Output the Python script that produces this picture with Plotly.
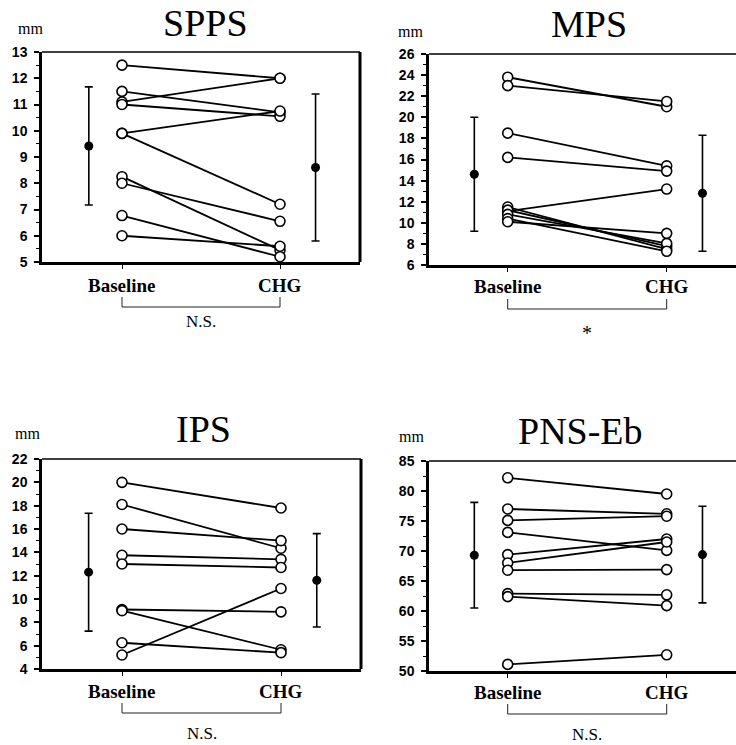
import plotly.graph_objects as go

W, H = 736, 745

# ---------------- data ----------------
groups = ["Baseline", "CHG"]

spps_baseline = [12.5, 11.1, 11.5, 11.0, 9.9, 9.9, 8.25, 8.0, 6.77, 6.0]
spps_chg      = [12.0, 12.0, 10.7, 10.55, 10.75, 7.2, 5.45, 6.55, 5.2, 5.6]
spps_mean = [9.42, 8.6]
spps_sd   = [2.25, 2.8]

mps_baseline = [23.8, 23.0, 18.5, 16.2, 11.1, 11.5, 11.2, 10.8, 10.4, 10.1]
mps_chg      = [21.0, 21.5, 15.4, 14.9, 13.2, 7.5, 7.8, 8.05, 7.3, 9.0]
mps_mean = [14.6, 12.8]
mps_sd   = [5.4, 5.5]

ips_baseline = [20.0, 18.1, 16.0, 13.75, 13.0, 9.1, 9.0, 6.25, 5.2]
ips_chg      = [17.8, 14.35, 15.0, 13.4, 12.7, 8.9, 5.65, 5.4, 10.9]
ips_mean = [12.3, 11.6]
ips_sd   = [5.05, 4.0]

pns_baseline = [82.2, 77.0, 75.1, 73.1, 69.4, 68.0, 66.8, 62.9, 62.4, 51.1]
pns_chg      = [79.5, 76.2, 75.8, 70.1, 72.0, 71.5, 66.9, 62.7, 60.9, 52.7]
pns_mean = [69.3, 69.4]
pns_sd   = [8.8, 8.05]

titles = ["SPPS", "MPS", "IPS", "PNS-Eb"]
significance = ["N.S.", "*", "N.S.", "N.S."]
unit_label = "mm"
y_ranges = [(5, 13), (6, 26), (4, 22), (50, 85)]
y_dticks = [1, 2, 2, 5]

# ---------------- layout geometry (pixels) ----------------
# (left, right, top, bottom, baseline_px, chg_px)
panels_px = [
    (42, 360, 52, 262, 122, 280),
    (429, 736, 54, 265, 507.7, 666.7),
    (42, 361, 459, 669, 122, 281),
    (429, 736, 461, 671, 507.7, 666.7),
]
title_px = [(205, 22.5), (589, 24), (203.5, 429.5), (580, 430.5)]
mm_px = [(30, 29), (410, 31), (27, 434), (411, 436)]
# label centre y, bracket top y, bracket bottom y, significance y
below_px = [(285, 297, 307, 321), (286, 299, 309, 333),
            (691, 703, 713, 733), (692, 704, 714, 734)]
MEAN_X = [-0.21, 1.225]

datasets = [
    (spps_baseline, spps_chg, spps_mean, spps_sd),
    (mps_baseline, mps_chg, mps_mean, mps_sd),
    (ips_baseline, ips_chg, ips_mean, ips_sd),
    (pns_baseline, pns_chg, pns_mean, pns_sd),
]

def px_x(p):
    return p / W

def px_y(p):
    return 1 - p / H

fig = go.Figure()
annotations = []
shapes = []

serif = "Liberation Serif, Times New Roman, serif"
sans = "Liberation Sans, Arial, sans-serif"

for i, (base, chg, mean, sd) in enumerate(datasets):
    n = i + 1
    xa = "x" if n == 1 else f"x{n}"
    ya = "y" if n == 1 else f"y{n}"
    L, R, T, B, bpx, cpx = panels_px[i]
    unit = cpx - bpx
    xr = [(L - bpx) / unit, (R - bpx) / unit]

    # connecting lines
    lx, ly = [], []
    for b, c in zip(base, chg):
        lx += [0, 1, None]
        ly += [b, c, None]
    fig.add_trace(go.Scatter(x=lx, y=ly, mode="lines", xaxis=xa, yaxis=ya,
                             line=dict(color="black", width=1.8),
                             showlegend=False, hoverinfo="skip"))
    # individual open circles
    fig.add_trace(go.Scatter(x=[0] * len(base) + [1] * len(chg), y=base + chg,
                             mode="markers", xaxis=xa, yaxis=ya,
                             marker=dict(symbol="circle", size=10, color="white",
                                         line=dict(color="black", width=1.6)),
                             cliponaxis=False, showlegend=False))
    # mean +/- SD
    fig.add_trace(go.Scatter(x=MEAN_X, y=mean, mode="markers", xaxis=xa, yaxis=ya,
                             marker=dict(symbol="circle", size=9, color="black"),
                             error_y=dict(type="data", array=sd, color="black",
                                          thickness=1.6, width=4),
                             cliponaxis=False, showlegend=False))

    axx = dict(domain=[px_x(L), px_x(R)], range=xr, anchor=ya,
               showgrid=False, zeroline=False, showline=True, automargin=False,
               linecolor="black", linewidth=3,
               tickvals=[0, 1], ticks="outside", ticklen=4,
               tickwidth=1.2, tickcolor="black", showticklabels=False)
    y0, y1 = y_ranges[i]
    axy = dict(domain=[px_y(B), px_y(T)], range=[y0, y1], anchor=xa,
               showgrid=False, zeroline=False, showline=True, automargin=False,
               linecolor="black", linewidth=2.5,
               dtick=y_dticks[i], tick0=y0, ticks="outside", ticklen=5,
               tickwidth=1.5, tickcolor="black",
               minor=dict(dtick=y_dticks[i] / 2, ticks="outside", ticklen=3,
                          tickwidth=1, tickcolor="black"),
               tickfont=dict(family=sans, size=14, color="black", weight="bold"),
               ticklabelstandoff=4)
    fig.update_layout(**{("xaxis" if n == 1 else f"xaxis{n}"): axx,
                         ("yaxis" if n == 1 else f"yaxis{n}"): axy})

    # frame: top line (thin) and right line (thick, only when inside image)
    shapes.append(dict(type="line", xref=f"{xa} domain", yref=f"{ya} domain",
                       x0=0, x1=1, y0=1, y1=1, line=dict(color="black", width=1.5)))
    if R < W - 5:
        shapes.append(dict(type="line", xref=f"{xa} domain", yref=f"{ya} domain",
                           x0=1, x1=1, y0=0, y1=1, line=dict(color="black", width=3)))

    lab_y, bt, bb, sig_y = below_px[i]
    # group labels under the axis
    for gx, g in enumerate(groups):
        annotations.append(dict(x=gx, xref=xa, y=px_y(lab_y), yref="paper",
                                text=f"<b>{g}</b>", showarrow=False,
                                xanchor="center", yanchor="middle",
                                font=dict(family=serif, size=19, color="black")))
    # bracket
    shapes.append(dict(type="path", xref=xa, yref="paper",
                       path=f"M 0,{px_y(bt)} L 0,{px_y(bb)} L 1,{px_y(bb)} L 1,{px_y(bt)}",
                       line=dict(color="#222", width=1)))
    annotations.append(dict(x=0.5, xref=xa, y=px_y(sig_y), yref="paper",
                            text=significance[i], showarrow=False,
                            xanchor="center", yanchor="middle",
                            font=dict(family=serif, size=17 if significance[i] != "*" else 20,
                                      color="black")))
    # title
    tx, ty = title_px[i]
    annotations.append(dict(x=px_x(tx), y=px_y(ty), xref="paper", yref="paper",
                            text=titles[i], showarrow=False, xanchor="center",
                            yanchor="middle",
                            font=dict(family=serif, size=38, color="black")))
    mx, my = mm_px[i]
    annotations.append(dict(x=px_x(mx), y=px_y(my), xref="paper", yref="paper",
                            text=unit_label, showarrow=False, xanchor="center",
                            yanchor="middle",
                            font=dict(family=serif, size=16, color="black")))

fig.update_layout(width=W, height=H, autosize=False,
                  margin=dict(l=0, r=0, t=0, b=0, pad=0, autoexpand=False),
                  paper_bgcolor="white", plot_bgcolor="white",
                  annotations=annotations, shapes=shapes, showlegend=False)

fig.write_html("out.html", config={"displayModeBar": False},
               post_script="document.body.style.margin='0';"
                           "document.body.style.overflow='hidden';")
